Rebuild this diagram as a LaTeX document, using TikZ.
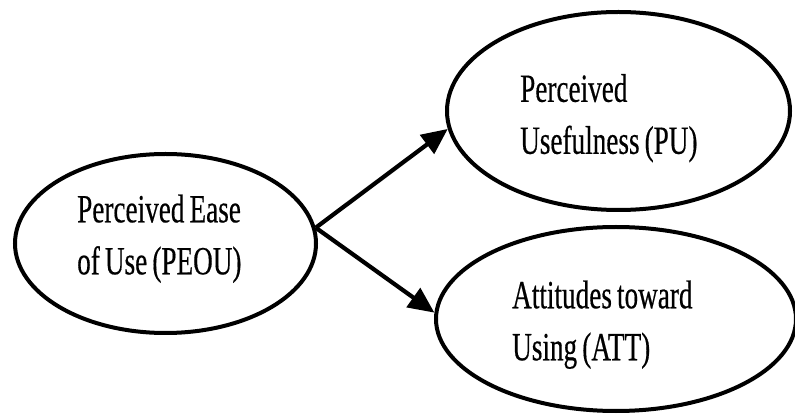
\documentclass[tikz,border=0pt]{standalone}
\usepackage{fontspec}
\newfontfamily\narrowserif[FakeStretch=0.68,FakeBold=0.4,WordSpace=0.75]{Liberation Serif}
\usetikzlibrary{shapes.geometric,arrows.meta}
\begin{document}
\begin{tikzpicture}[x=1pt,y=-1pt,
  construct/.style={ellipse,draw=black,line width=4pt,inner sep=0pt},
  caption/.style={anchor=west,inner sep=0pt,align=left,
    font=\narrowserif\fontsize{40}{52}\selectfont},
  link/.style={line width=4.2pt,-{Triangle[length=26pt,width=23pt]}}]
\path[use as bounding box] (0,0) rectangle (795,419);

% constructs
\node[construct,minimum width=301pt,minimum height=179pt] (peou) at (165.5,243.5) {};
\node[construct,minimum width=343pt,minimum height=198pt] (pu) at (618.5,111) {};
\node[construct,minimum width=360pt,minimum height=184pt] (att) at (616,319) {};

% construct names
\node[caption] (peou-t) at (77,238.7) {Perceived Ease\\of Use (PEOU)};
\node[caption] (pu-t) at (520,118.2) {Perceived\\Usefulness (PU)};
\node[caption] (att-t) at (512,324.7) {Attitudes toward\\Using (ATT)};

% effects
\draw[link] (peou.6) -- (pu.186);
\draw[link] (peou.6) -- (att.178);
\end{tikzpicture}
\end{document}
